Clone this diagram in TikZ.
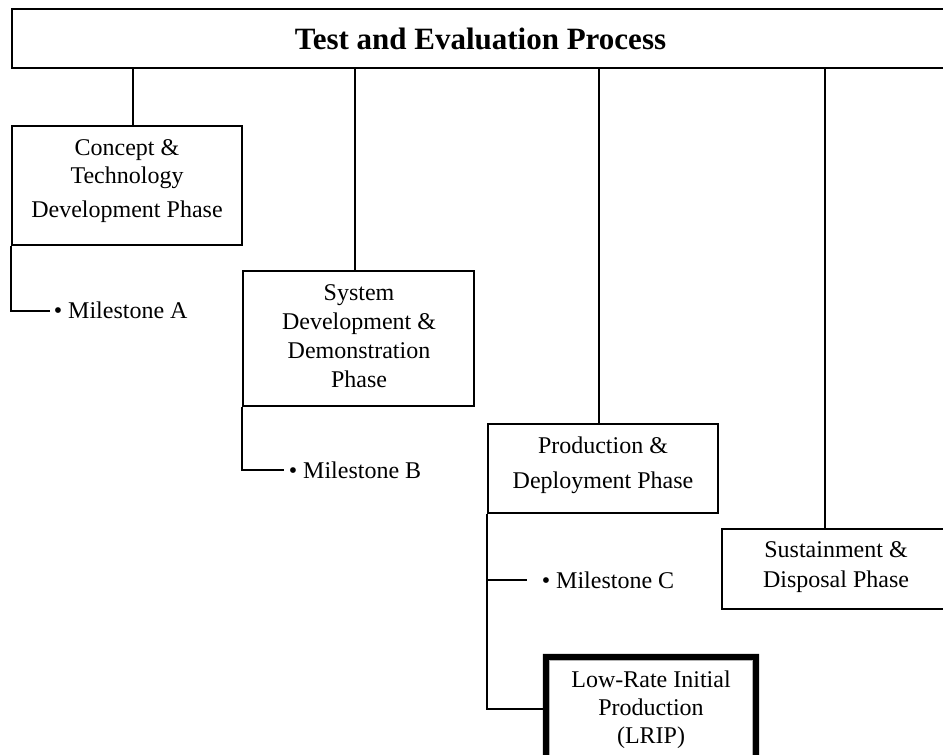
\documentclass[tikz,border=0pt]{standalone}
\usepackage{fontspec}
\setmainfont{Liberation Serif}

\tikzset{
  box/.style={draw=black, line width=2pt, rectangle, inner sep=0pt},
  boxtext/.style={align=center, inner sep=0pt, font=\fontsize{24}{#1}\selectfont},
  mstext/.style={anchor=west, inner sep=0pt, font=\fontsize{24}{28}\selectfont},
  link/.style={draw=black, line width=2pt},
}

\begin{document}
\begin{tikzpicture}[x=1pt, y=-1pt]
  \useasboundingbox (0,0) rectangle (943,755);
  \clip (0,0) rectangle (943,755);
  \fill[white] (0,0) rectangle (943,755);

  % title bar
  \node[box, minimum width=937pt, minimum height=59pt,
        font=\fontsize{31}{36}\selectfont\bfseries] (title) at (480.5,38.5)
        {Test and Evaluation Process};

  % phase boxes
  \node[box, minimum width=230pt, minimum height=119pt] (concept) at (127,185.5) {};
  \node[boxtext=28] (conceptText) at (127,181.5)
        {Concept \&\\Technology\\[6pt]Development Phase};

  \node[box, minimum width=231pt, minimum height=135pt] (system) at (358.5,338.5) {};
  \node[boxtext=29] (systemText) at (359,336)
        {System\\Development \&\\Demonstration\\Phase};

  \node[box, minimum width=230pt, minimum height=89pt] (prod) at (603,468.5) {};
  \node[boxtext=35] (prodText) at (603,465)
        {Production \&\\Deployment Phase};

  \node[box, minimum width=228pt, minimum height=80pt] (sust) at (836,569) {};
  \node[boxtext=30] (sustText) at (836,567.5)
        {Sustainment \&\\Disposal Phase};

  % LRIP box: solid heavy black frame (filled ring) with a thin grey inner rule
  \node[rectangle, inner sep=0pt, minimum width=210pt, minimum height=133pt]
        (lrip) at (651,723.5) {};
  \fill[black, even odd rule]
        ([shift={(-3pt,3pt)}]lrip.north west) rectangle ([shift={(3pt,-3pt)}]lrip.south east)
        ([shift={(3pt,-3pt)}]lrip.north west) rectangle ([shift={(-3pt,3pt)}]lrip.south east);
  \draw[black!30, line width=1pt]
        ([shift={(3.5pt,-3.5pt)}]lrip.north west) rectangle
        ([shift={(-3.5pt,3.5pt)}]lrip.south east);
  \node[boxtext=28] (lripText) at (651,709.4)
        {Low-Rate Initial\\Production\\(LRIP)};

  % milestone labels
  \node[mstext] (msA) at (53.6,310.7) {• Milestone A};
  \node[mstext] (msB) at (288.6,470) {• Milestone B};
  \node[mstext] (msC) at (541.6,580) {• Milestone C};
  \coordinate (cEnd) at (527,580);

  % drops from the title bar
  \draw[link] ([xshift=6pt]concept.north |- title.south) -- ([xshift=6pt]concept.north);
  \draw[link] ([xshift=-3.5pt]system.north |- title.south) -- ([xshift=-3.5pt]system.north);
  \draw[link] ([xshift=-4pt]prod.north |- title.south) -- ([xshift=-4pt]prod.north);
  \draw[link] ([xshift=-11pt]sust.north |- title.south) -- ([xshift=-11pt]sust.north);

  % milestone branches
  \draw[link] (concept.south west) |- ([xshift=-4pt]msA.west);
  \draw[link] (system.south west) |- ([xshift=-5pt]msB.west);
  \draw[link] (prod.south west) |- (lripText.center -| lrip.west);
  \draw[link] (prod.south west |- cEnd) -- (cEnd);
\end{tikzpicture}
\end{document}
